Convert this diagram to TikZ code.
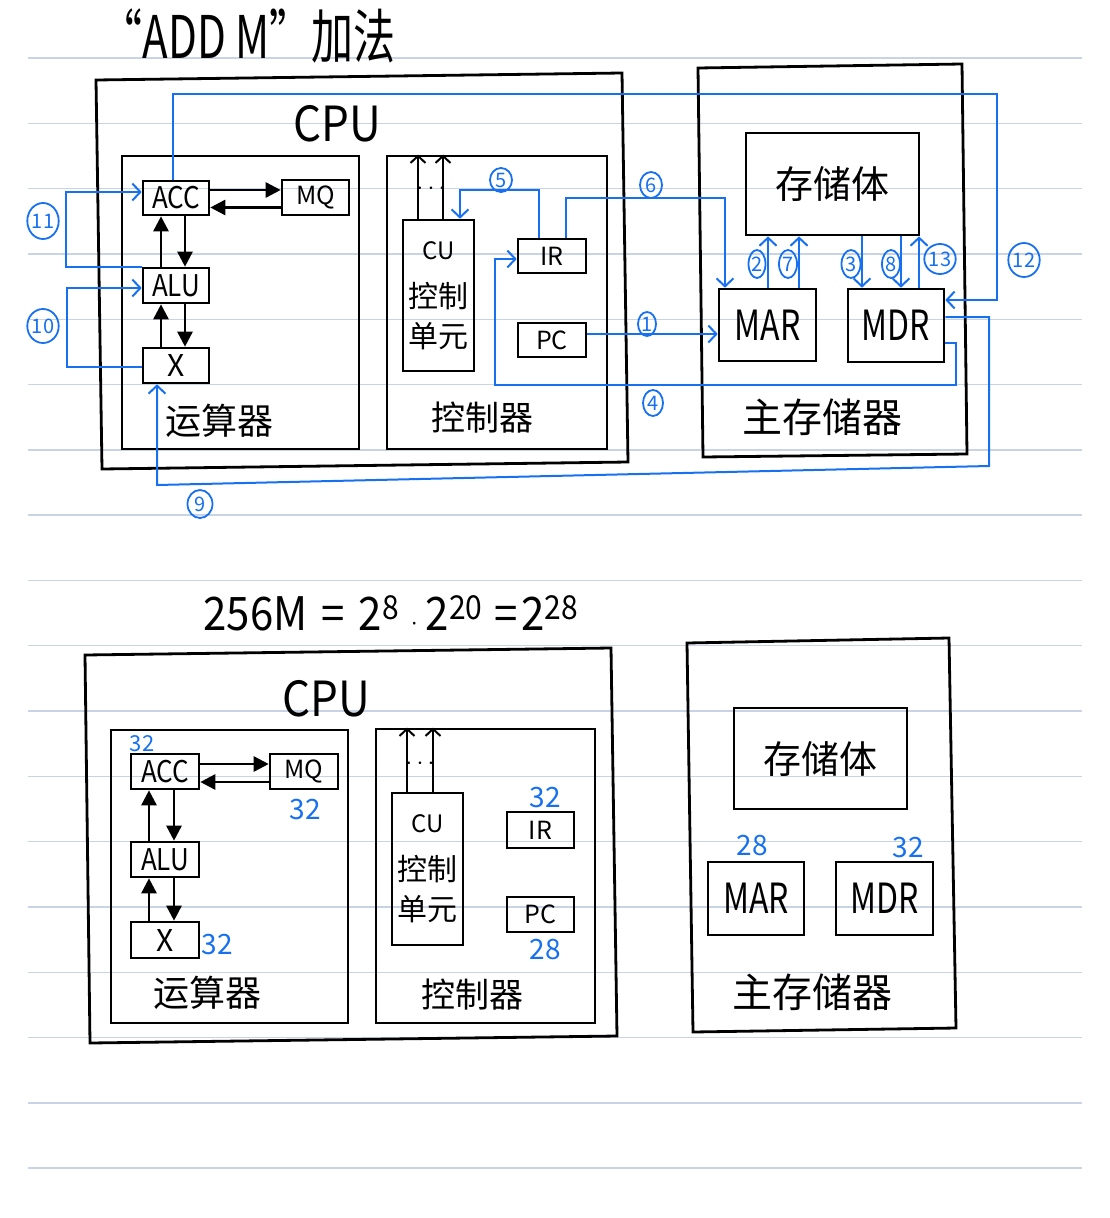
\documentclass[tikz,border=0pt]{standalone}
\usepackage{fontspec}
\setmainfont{Noto Sans CJK SC}
\usepackage{tikz}
\usetikzlibrary{arrows.meta, positioning, shapes.geometric, calc}
\definecolor{penblue}{HTML}{1670F0}
\definecolor{ruleline}{HTML}{C8D4E6}
\tikzset{
  hand/.style={font=\fontsize{#1}{#1}\selectfont},
  reg/.style={draw=black, line width=2.6pt, inner sep=0pt, hand=26},
  part/.style={draw=black, line width=2.8pt},
  blk/.style={line width=2.6pt, -{Triangle[length=15pt,width=15pt]}},
  bus/.style={line width=2pt, -{Straight Barb[length=7pt,width=15pt]}},
  wire/.style={penblue, line width=2pt, -{Straight Barb[length=8pt,width=17pt]}},
  stepno/.style={draw=penblue, text=penblue, ellipse, line width=1.8pt, inner sep=0pt,
    minimum width=20pt, minimum height=28pt, hand=20},
  bits/.style={text=penblue, hand=28},
}
% handwriting is tall and narrow
\newcommand{\tall}[2][1.3]{\scalebox{1}[#1]{#2}}
\newcommand{\pow}[1]{\raisebox{10pt}{\fontsize{30}{30}\selectfont #1}}
\newcommand{\notelines}{%
  \foreach \k in {0,...,17} {
    \draw[ruleline, line width=1.4pt] (28,{58+65.3*\k}) -- (1082,{58+65.3*\k});
  }%
}

\begin{document}
\begin{tikzpicture}[x=1pt, y=-1pt]
  \useasboundingbox (0,0) rectangle (1109,1218);
  \notelines

  % ---------- "ADD M" ----------
  \node[hand=42] (title) at (248,36) {\tall[1.4]{“ADD M”加法}};

  % CPU and main memory
  \draw[part] (96,80) -- (622,73) -- (628,462) -- (102,469) -- cycle;
  \draw[part] (698,68) -- (962,64) -- (967,454) -- (703,457) -- cycle;
  \node[hand=44] (cpu) at (337,124) {\tall[1.1]{CPU}};

  % arithmetic unit
  \node[part, minimum width=237, minimum height=293] (alub) at (240.5,302.5) {};
  \node[reg, minimum width=66, minimum height=34] (acc) at (176,198) {\tall[1.15]{ACC}};
  \node[reg, minimum width=67, minimum height=35, hand=25] (mq) at (315.5,197.5) {MQ};
  \node[reg, minimum width=66, minimum height=35] (alu) at (176,285.5) {\tall[1.15]{ALU}};
  \node[reg, minimum width=66, minimum height=35, hand=30] (xr) at (176,365.5) {X};
  \node[hand=36] (alulab) at (219,421) {运算器};
  \draw[blk] ([yshift=8pt]acc.east) -- ([yshift=8pt]acc.east -| mq.west);
  \draw[blk] ([yshift=-10pt]mq.west) -- ([yshift=-10pt]mq.west -| acc.east);
  \draw[blk] ([xshift=-15pt]alu.north) -- ([xshift=-15pt]acc.south);
  \draw[blk] ([xshift=9pt]acc.south) -- ([xshift=9pt]alu.north);
  \draw[blk] ([xshift=-15pt]xr.north) -- ([xshift=-15pt]alu.south);
  \draw[blk] ([xshift=9pt]alu.south) -- ([xshift=9pt]xr.north);

  % control unit
  \node[part, minimum width=220, minimum height=293] (ctrl) at (497,302.5) {};
  \node[reg, minimum width=71, minimum height=151, align=center, hand=30] (cu) at (438.5,295.5)
    {{\fontsize{24}{24}\selectfont CU}\\[18pt]控制\\[10pt]单元};
  \node[reg, minimum width=68, minimum height=34, hand=25] (ir) at (552,256) {IR};
  \node[reg, minimum width=68, minimum height=34, hand=25] (pc) at (552,340) {PC};
  \node[hand=34] (ctrllab) at (482,418) {控制器};
  \draw[bus] ([xshift=-20.5pt]cu.north) -- ([xshift=-20.5pt]cu.north |- ctrl.north);
  \draw[bus] ([xshift=4.5pt]cu.north) -- ([xshift=4.5pt]cu.north |- ctrl.north);
  \node[hand=24] (dots) at (431,189) {$\cdots$};

  % memory
  \node[part, minimum width=173, minimum height=102, hand=38] (bank) at (832.5,184) {存储体};
  \node[reg, minimum width=97, minimum height=72, hand=32] (mar) at (767.5,325) {\tall{MAR}};
  \node[reg, minimum width=96, minimum height=73, hand=32] (mdr) at (896,325.5) {\tall{MDR}};
  \node[hand=40] (memlab) at (822,417) {主存储器};

  % ADD M steps
  \draw[wire] ([yshift=6pt]pc.east) -- ([yshift=6pt]pc.east -| mar.west);
  \draw[wire] ([xshift=0.5pt]mar.north) -- ([xshift=0.5pt]mar.north |- bank.south);
  \draw[wire] ([xshift=-34pt]mdr.north |- bank.south) -- ([xshift=-34pt]mdr.north);
  \draw[wire] ([yshift=-17.5pt]mdr.east) -| (956,385) -| (495,259) -- ([yshift=-3pt]ir.west);
  \draw[wire] ([xshift=-13pt]ir.north) |- (460,190) -- ([xshift=21.5pt]cu.north);
  \draw[wire] ([xshift=14pt]ir.north) |- (725,198) -- ([xshift=-42.5pt]mar.north);
  \draw[wire] ([xshift=31.5pt]mar.north) -- ([xshift=31.5pt]mar.north |- bank.south);
  \draw[wire] ([xshift=5pt]mdr.north |- bank.south) -- ([xshift=5pt]mdr.north);
  \coordinate (c9a) at (989,466);
  \coordinate (c9b) at (157,485);
  \draw[wire] ([yshift=8.5pt]mdr.east) -| (c9a) -- (c9b) -- ([xshift=-19pt]xr.south);
  \draw[wire] ([yshift=-1.5pt]xr.west) -- ++(-75,0) |- ([yshift=-2.5pt]alu.west);
  \draw[wire] (alu.north west) -- ++(-76,0) |- ([yshift=6pt]acc.west);
  \draw[wire] ([xshift=-3pt]acc.north) |- (997,94) |- ([yshift=25.5pt]mdr.east);
  \draw[wire] ([xshift=23pt]mdr.north) -- ([xshift=23pt]mdr.north |- bank.south);

  \node[stepno, minimum width=18, minimum height=24] (s1) at (647,324) {1};
  \node[stepno, minimum width=17] (s2) at (757,264) {2};
  \node[stepno, minimum width=19] (s3) at (851,264) {3};
  \node[stepno, minimum width=20, minimum height=26] (s4) at (653,403) {4};
  \node[stepno, minimum width=22, minimum height=24] (s5) at (501,180) {5};
  \node[stepno, minimum width=22, minimum height=26] (s6) at (651,185) {6};
  \node[stepno, minimum width=18] (s7) at (788,264) {7};
  \node[stepno, minimum width=18] (s8) at (891,264) {8};
  \node[stepno, minimum width=25] (s9) at (200,504) {9};
  \node[stepno, minimum width=30, minimum height=34] (s10) at (43,326) {10};
  \node[stepno, minimum width=27, minimum height=36] (s11) at (43,221) {11};
  \node[stepno, minimum width=28, minimum height=34] (s12) at (1024,260) {12};
  \node[stepno, minimum width=22, minimum height=30] (s13) at (940,259) {13};

  % ---------- register widths ----------
  \node[hand=42, anchor=base west] (sizeeq) at (200,630)
    {\tall[1.1]{256M\hspace{14pt}=\hspace{14pt}2\pow{8}\hspace{12pt}$\cdot$\hspace{8pt}2\pow{20}\hspace{12pt}=\hspace{4pt}2\pow{28}}};

  \draw[part] (85,655) -- (611,648) -- (617,1036) -- (90,1043) -- cycle;
  \draw[part] (687,643) -- (949,638) -- (956,1028) -- (693,1032) -- cycle;
  \node[hand=44] (cpu2) at (326,699) {\tall[1.1]{CPU}};

  \node[part, minimum width=237, minimum height=293] (alub2) at (229.5,876.5) {};
  \node[reg, minimum width=68, minimum height=35] (acc2) at (165,771.5) {\tall[1.15]{ACC}};
  \node[reg, minimum width=68, minimum height=35, hand=25] (mq2) at (304,771.5) {MQ};
  \node[reg, minimum width=68, minimum height=35] (alu2) at (165,859.5) {\tall[1.15]{ALU}};
  \node[reg, minimum width=68, minimum height=36, hand=30] (xr2) at (165,940) {X};
  \node[hand=36] (alulab2) at (207,993) {运算器};
  \draw[blk] ([yshift=7.5pt]acc2.east) -- ([yshift=7.5pt]acc2.east -| mq2.west);
  \draw[blk] ([yshift=-10.5pt]mq2.west) -- ([yshift=-10.5pt]mq2.west -| acc2.east);
  \draw[blk] ([xshift=-16pt]alu2.north) -- ([xshift=-16pt]acc2.south);
  \draw[blk] ([xshift=9pt]acc2.south) -- ([xshift=9pt]alu2.north);
  \draw[blk] ([xshift=-16pt]xr2.north) -- ([xshift=-16pt]alu2.south);
  \draw[blk] ([xshift=9pt]alu2.south) -- ([xshift=9pt]xr2.north);

  \node[part, minimum width=219, minimum height=294] (ctrl2) at (485.5,876) {};
  \node[reg, minimum width=71, minimum height=152, align=center, hand=30] (cu2) at (427.5,869)
    {{\fontsize{24}{24}\selectfont CU}\\[18pt]控制\\[10pt]单元};
  \node[reg, minimum width=67, minimum height=36, hand=25] (ir2) at (540.5,830) {IR};
  \node[reg, minimum width=67, minimum height=35, hand=25] (pc2) at (540.5,914.5) {PC};
  \node[hand=34] (ctrllab2) at (472,995) {控制器};
  \draw[bus] ([xshift=-20.5pt]cu2.north) -- ([xshift=-20.5pt]cu2.north |- ctrl2.north);
  \draw[bus] ([xshift=5.5pt]cu2.north) -- ([xshift=5.5pt]cu2.north |- ctrl2.north);
  \node[hand=24] (dots2) at (420,764) {$\cdots$};

  \node[part, minimum width=173, minimum height=101, hand=38] (bank2) at (820.5,758.5) {存储体};
  \node[reg, minimum width=96, minimum height=73, hand=32] (mar2) at (756,898.5) {\tall{MAR}};
  \node[reg, minimum width=97, minimum height=73, hand=32] (mdr2) at (884.5,898.5) {\tall{MDR}};
  \node[hand=40] (memlab2) at (812,992) {主存储器};

  % widths in bits
  \node[bits, hand=22] (accbits) at (142,744) {32};
  \node[bits] (mqbits) at (305,810) {32};
  \node[bits] (xbits) at (217,945) {32};
  \node[bits] (irbits) at (545,798) {32};
  \node[bits] (pcbits) at (545,950) {28};
  \node[bits] (marbits) at (752,846) {28};
  \node[bits] (mdrbits) at (908,848) {32};
\end{tikzpicture}
\end{document}
